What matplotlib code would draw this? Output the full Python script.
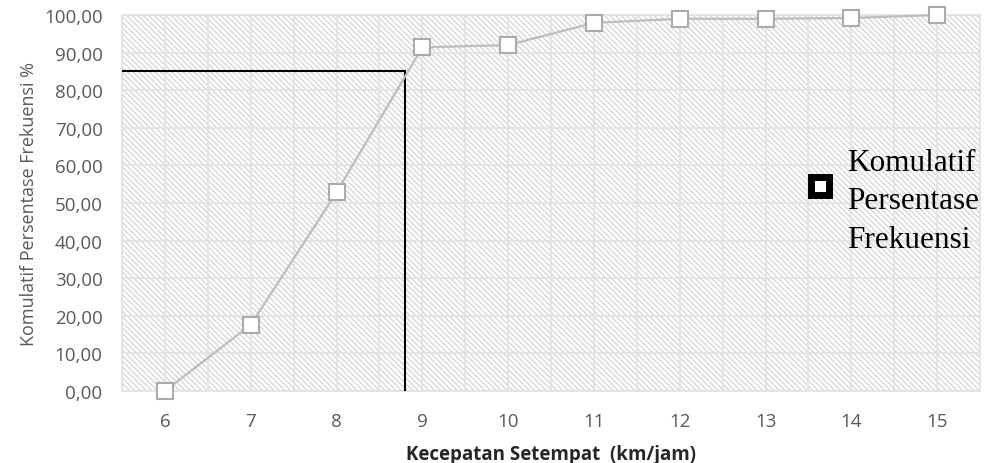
import matplotlib
matplotlib.use("Agg")
import matplotlib.pyplot as plt
from matplotlib.patches import Rectangle
from matplotlib.lines import Line2D
from matplotlib.ticker import FuncFormatter, MultipleLocator

# kecepatan setempat (km/jam) dan komulatif persentase frekuensi (%)
kecepatan = [6, 7, 8, 9, 10, 11, 12, 13, 14, 15]
komulatif = [0.00, 17.6, 52.8, 91.4, 92.0, 97.9, 99.0, 99.0, 99.2, 100.00]

# persentil 85
v85 = 8.8
p85 = 85.0

label_seri = "Komulatif\nPersentase\nFrekuensi"

plt.rcParams['hatch.linewidth'] = 0.8
plt.rcParams['hatch.color'] = '#d0d0d0'

fig = plt.figure(figsize=(9.88, 4.64), dpi=100)
ax = fig.add_axes([122 / 988, 1 - 392 / 464, 858 / 988, 376 / 464])

# latar belakang bergaris miring
latar = Rectangle((0, 0), 1, 1, transform=ax.transAxes, facecolor='white',
                  edgecolor='#d0d0d0', linewidth=0, hatch='\\' * 6, zorder=0)
ax.add_patch(latar)

ax.set_xlim(5.5, 15.5)
ax.set_ylim(0, 100)
ax.xaxis.set_major_locator(MultipleLocator(1))
ax.xaxis.set_minor_locator(MultipleLocator(0.5))
ax.yaxis.set_major_locator(MultipleLocator(10))
ax.yaxis.set_major_formatter(FuncFormatter(lambda v, p: f"{v:.2f}".replace('.', ',')))

ax.grid(True, which='both', axis='x', color='#e2e2e2', linewidth=1.2, zorder=1)
ax.grid(True, which='major', axis='y', color='#e2e2e2', linewidth=1.2, zorder=1)
ax.set_axisbelow(True)
for s in ax.spines.values():
    s.set_color('#e2e2e2')
    s.set_linewidth(1.2)

ax.tick_params(which='both', length=0)
ax.tick_params(axis='y', pad=14, labelsize=13.5, labelcolor='#595959')
ax.tick_params(axis='x', pad=15, labelsize=13.5, labelcolor='#595959')
for t in ax.get_xticklabels() + ax.get_yticklabels():
    t.set_fontfamily('Open Sans')

# garis persentil 85
ax.plot([ax.get_xlim()[0], v85], [p85, p85], color='black', linewidth=1.5, zorder=3)
ax.plot([v85, v85], [0, p85], color='black', linewidth=1.5, zorder=3)

ax.plot(kecepatan, komulatif, color='#bdbdbd', linewidth=1.6, marker='s',
        markersize=12, markerfacecolor='white', markeredgecolor='#ababab',
        markeredgewidth=1.5, zorder=4, clip_on=False)

ax.set_xlabel("Kecepatan Setempat  (km/jam)", fontfamily='Open Sans', fontweight='bold',
              fontsize=13.5, color='#262626', labelpad=10)
ax.set_ylabel("Komulatif Persentase Frekuensi %", fontfamily='Open Sans',
              fontsize=13, color='#595959', labelpad=4)

kunci = Line2D([], [], linestyle='none', marker='s', markersize=13,
               markerfacecolor='white', markeredgecolor='black', markeredgewidth=5)
leg = ax.legend([kunci], [label_seri], loc='center left',
                bbox_to_anchor=(804 / 988, 1 - 202 / 464),
                bbox_transform=fig.transFigure, frameon=False, borderpad=0,
                borderaxespad=0, handlelength=1, handletextpad=0.37,
                prop={'family': 'Liberation Serif', 'size': 22.5})
leg.get_texts()[0].set_linespacing(1.42)
# kunci legenda sedikit di atas tengah teks
h = leg.legend_handles[0]
h.set_ydata([y + 11 for y in h.get_ydata()])

fig.savefig("out.png", dpi=100)
